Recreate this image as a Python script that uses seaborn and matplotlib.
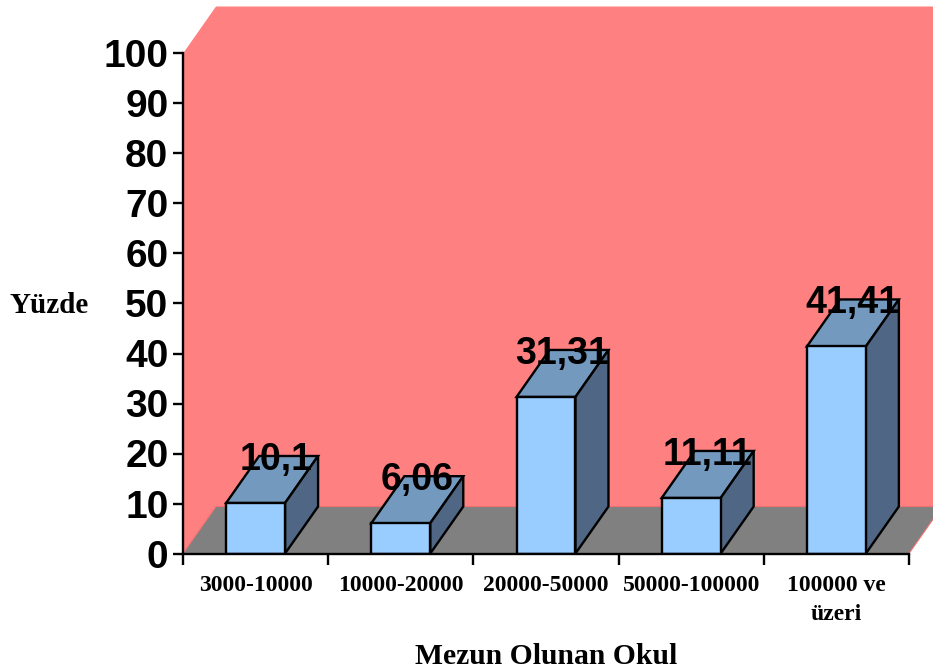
import matplotlib
matplotlib.use('Agg')
import matplotlib.pyplot as plt
import seaborn as sns
from matplotlib.patches import Polygon, Rectangle
from matplotlib.transforms import IdentityTransform

categories = ['3000-10000', '10000-20000', '20000-50000', '50000-100000', '100000 ve\nüzeri']
values = [10.1, 6.06, 31.31, 11.11, 41.41]
value_labels = ['10,1', '6,06', '31,31', '11,11', '41,41']
yticks = list(range(0, 101, 10))

sns.set_style('ticks')
plt.rcParams['font.family'] = ['Liberation Sans', 'DejaVu Sans']
plt.rcParams['text.color'] = 'black'
plt.rcParams['xtick.labelcolor'] = 'black'
plt.rcParams['ytick.labelcolor'] = 'black'

W, H = 933, 670
fig = plt.figure(figsize=(W / 100, H / 100), dpi=100)
ax = fig.add_axes([183 / W, 1 - 553.5 / H, 726 / W, 500 / H])
ax.patch.set_visible(False)

bar_w = 0.406
# depth of the fake 3d box, in data units
dx = 33 / 145.2
dy = 47 / 5
lw = 1.7

sns.barplot(x=categories, y=values, color='#99CCFF', saturation=1, width=bar_w,
            edgecolor='black', linewidth=lw, zorder=2, ax=ax)
ax.set_xlim(-0.5, 4.5)
ax.set_ylim(0, 100)

# back wall and floor, cut off at the top of the picture
top_clip = Rectangle((0, 0), W, H - 4, transform=IdentityTransform())
wall = Polygon([(-0.5, 0), (-0.5, 100), (-0.5 + dx, 100 + dy), (4.5 + dx * 2, 100 + dy),
                (4.5 + dx * 2, dy), (-0.5 + dx, dy)],
               facecolor='#FF8080', edgecolor='none', zorder=0.5, clip_on=True)
ax.add_patch(wall)
wall.set_clip_path(top_clip)
floor = Polygon([(-0.5, 0), (-0.5 + dx, dy), (4.5 + dx, dy), (4.5, 0)],
                facecolor='#808080', edgecolor='#F07070', linewidth=0.8, zorder=0.6, clip_on=False)
ax.add_patch(floor)

for i, v in enumerate(values):
    l = i - bar_w / 2
    r = i + bar_w / 2
    ax.add_patch(Polygon([(l, v), (l + dx, v + dy), (r + dx, v + dy), (r, v)], closed=True,
                         facecolor='#7399BF', edgecolor='black', linewidth=lw, zorder=1.5, clip_on=False))
    ax.add_patch(Polygon([(r, 0), (r + dx, dy), (r + dx, v + dy), (r, v)], closed=True,
                         facecolor='#4F6785', edgecolor='black', linewidth=lw, zorder=1.5, clip_on=False))
    off = 21 if i == 0 else 16
    ax.annotate(value_labels[i], (i, v), xytext=(off * 0.72, 24), textcoords='offset points',
                ha='center', va='baseline', fontsize=27, fontweight='bold', color='black',
                zorder=5, annotation_clip=False)

for s in ['top', 'right']:
    ax.spines[s].set_visible(False)
for s in ['left', 'bottom']:
    ax.spines[s].set_linewidth(lw)
    ax.spines[s].set_color('black')
    ax.spines[s].set_zorder(4)

ax.set_yticks(yticks)
ax.tick_params(axis='y', length=7.5, width=lw, color='black', pad=3, labelsize=28)
for t in ax.get_yticklabels():
    t.set_fontweight('bold')

ax.set_xticks(range(len(categories)))
ax.set_xticks([i - 0.5 for i in range(len(categories) + 1)], minor=True)
ax.tick_params(axis='x', which='major', length=0, pad=15.5, labelsize=17)
ax.tick_params(axis='x', which='minor', length=8, width=lw, color='black')
for t in ax.get_xticklabels():
    t.set_fontfamily(['Liberation Serif', 'DejaVu Serif'])
    t.set_fontweight('bold')
    t.set_linespacing(1.5)

fig.text(49 / W, 1 - 306 / H, 'Yüzde', ha='center', va='center', fontsize=21,
         fontweight='bold', family=['Liberation Serif', 'DejaVu Serif'])
fig.text(546 / W, 1 - 657 / H, 'Mezun Olunan Okul', ha='center', va='center', fontsize=21.3,
         fontweight='bold', family=['Liberation Serif', 'DejaVu Serif'])

fig.savefig('out.png', dpi=100, facecolor='white')
